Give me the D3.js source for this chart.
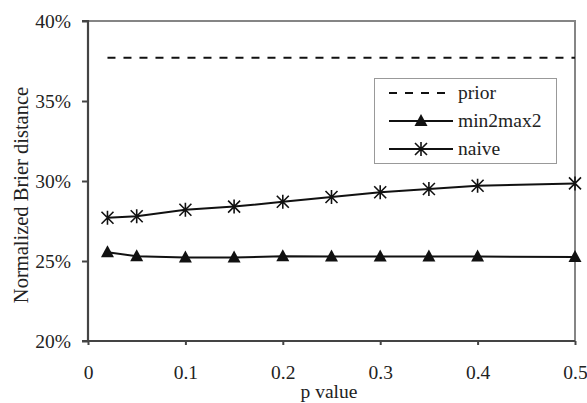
<!DOCTYPE html>
<html>
<head>
<meta charset="utf-8">
<script src="https://cdn.jsdelivr.net/npm/d3@7"></script>
<style>
body { margin: 0; background: #fff; }
svg, svg text { font-family: 'Liberation Serif', 'Times New Roman', Times, 'DejaVu Serif', serif !important; }
</style>
</head>
<body>
<div id="chart"></div>
<script>
// values
var pValues = [0.02, 0.05, 0.1, 0.15, 0.2, 0.25, 0.3, 0.35, 0.4, 0.5];
var naive = [27.7, 27.8, 28.2, 28.4, 28.7, 29.0, 29.3, 29.5, 29.7, 29.85];
var min2max2 = [25.55, 25.3, 25.22, 25.22, 25.3, 25.28, 25.28, 25.28, 25.28, 25.25];
var prior = 37.7;
var xTicks = [0, 0.1, 0.2, 0.3, 0.4, 0.5];
var yTicks = [20, 25, 30, 35, 40];
var legendNames = ["prior", "min2max2", "naive"];

var W = 587, H = 403;
var plotL = 88, plotR = 575, plotT = 21, plotB = 341;
var fs = 19.5;

var svg = d3.select("#chart").append("svg")
    .attr("width", W)
    .attr("height", H);

var x = d3.scaleLinear().domain([0, 0.5]).range([plotL, plotR]);
var y = d3.scaleLinear().domain([20, 40]).range([plotB, plotT]);

// top & right frame
svg.append("path")
    .attr("d", "M" + plotL + "," + plotT + "H" + plotR + "V" + plotB)
    .attr("fill", "none")
    .attr("stroke", "#858585")
    .attr("stroke-width", 2);

// axes
var yAxis = svg.append("g")
    .attr("transform", "translate(" + plotL + ",0)")
    .call(d3.axisLeft(y).tickValues(yTicks).tickSize(6).tickPadding(11)
        .tickFormat(function(d) { return d + "%"; }));
var xAxis = svg.append("g")
    .attr("transform", "translate(0," + plotB + ")")
    .call(d3.axisBottom(x).tickValues(xTicks).tickSize(4).tickPadding(20)
        .tickFormat(function(d) { return d === 0 ? "0" : d3.format(".1f")(d); }));

[yAxis, xAxis].forEach(function(a) {
    a.attr("font-family", null).attr("font-size", fs);
    a.select(".domain").attr("stroke", "#444").attr("stroke-width", 2.2);
    a.selectAll(".tick line").attr("stroke", "#444").attr("stroke-width", 2);
    a.selectAll(".tick text").attr("fill", "#222");
});
yAxis.select(".domain").attr("d", "M-6," + plotT + "H0V" + plotB + "H-6");
xAxis.select(".domain").attr("d", "M" + plotL + ",0H" + plotR);

// axis titles
svg.append("text")
    .attr("x", 329)
    .attr("y", 398)
    .attr("text-anchor", "middle")
    .attr("font-size", fs)
    .attr("fill", "#222")
    .text("p value");
svg.append("text")
    .attr("transform", "translate(27.5,195) rotate(-90)")
    .attr("text-anchor", "middle")
    .attr("font-size", 20.5)
    .attr("fill", "#222")
    .text("Normalized Brier distance");

// prior (dashed)
svg.append("line")
    .attr("x1", x(pValues[0])).attr("x2", x(0.5))
    .attr("y1", y(prior)).attr("y2", y(prior))
    .attr("stroke", "#111")
    .attr("stroke-width", 2)
    .attr("stroke-dasharray", "8,8");

var line = d3.line()
    .x(function(d, i) { return x(pValues[i]); })
    .y(function(d) { return y(d); });

function drawTriangle(g, cx, cy) {
    g.append("path")
        .attr("d", "M" + cx + "," + (cy - 7) + "L" + (cx + 6.5) + "," + (cy + 5) + "L" + (cx - 6.5) + "," + (cy + 5) + "Z")
        .attr("fill", "#111");
}
function drawStar(g, cx, cy) {
    var r = 6;
    g.append("path")
        .attr("d", "M" + (cx - r) + "," + (cy - r) + "L" + (cx + r) + "," + (cy + r) +
            "M" + (cx - r) + "," + (cy + r) + "L" + (cx + r) + "," + (cy - r) +
            "M" + cx + "," + (cy - r - 1) + "L" + cx + "," + (cy + r + 1))
        .attr("stroke", "#111")
        .attr("stroke-width", 1.6)
        .attr("fill", "none");
}

[[naive, drawStar], [min2max2, drawTriangle]].forEach(function(s) {
    svg.append("path")
        .datum(s[0])
        .attr("d", line)
        .attr("fill", "none")
        .attr("stroke", "#111")
        .attr("stroke-width", 2);
    var g = svg.append("g");
    s[0].forEach(function(v, i) { s[1](g, x(pValues[i]), y(v)); });
});

// legend
var lg = svg.append("g");
lg.append("rect")
    .attr("x", 374.5).attr("y", 78.5)
    .attr("width", 182).attr("height", 85)
    .attr("fill", "#fff")
    .attr("stroke", "#999")
    .attr("stroke-width", 1);
legendNames.forEach(function(name, i) {
    var ly = 93 + i * 28;
    var l = lg.append("line")
        .attr("x1", 389).attr("x2", i === 0 ? 448 : 453)
        .attr("y1", ly).attr("y2", ly)
        .attr("stroke", "#111")
        .attr("stroke-width", 2);
    if (i === 0) l.attr("stroke-dasharray", "8,8");
    if (i === 1) drawTriangle(lg, 421, ly);
    if (i === 2) drawStar(lg, 421, ly);
    lg.append("text")
        .attr("x", 458)
        .attr("y", ly + 6)
        .attr("font-size", fs)
        .attr("fill", "#222")
        .text(name);
});
</script>
</body>
</html>
